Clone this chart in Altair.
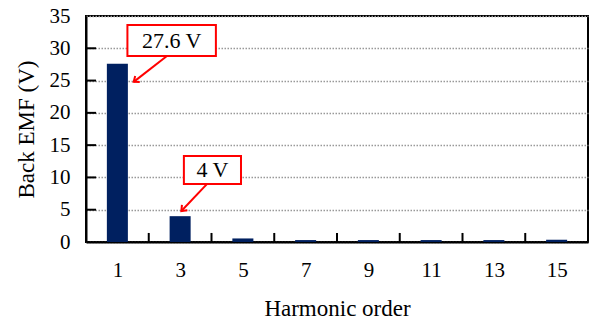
import altair as alt
import pandas as pd

# Harmonic spectrum of the back EMF
orders = [1, 3, 5, 7, 9, 11, 13, 15]
emf = [27.6, 4.0, 0.55, 0.3, 0.3, 0.3, 0.3, 0.35]

y_ticks = [5, 10, 15, 20, 25, 30]
x_dividers = [2, 4, 6, 8, 10, 12, 14]

FONT = "Liberation Serif"
NAVY = "#002060"
RED = "#ff0000"

bars_df = pd.DataFrame({"order": orders, "emf": emf})

# callouts: labelled value, box extent and arrow (tail -> tip), in data units
callouts = pd.DataFrame({
    "label": [f"{emf[0]:g} V", f"{emf[1]:g} V"],
    "bx": [1.32, 3.12], "bx2": [4.14, 4.94],
    "by": [28.8, 9.0], "by2": [33.6, 13.3],
    "tx": [2.73, 4.03], "ty": [31.2, 11.15],
    "ax": [2.58, 3.86], "ay": [28.8, 9.0],
    "hx": [1.52, 3.04], "hy": [24.8, 4.8],
    "angle": [233, 224],
})

xs = alt.Scale(domain=[0, 16], nice=False, zero=False)
ys = alt.Scale(domain=[0, 35], nice=False)

XTITLE = "Harmonic order"
YTITLE = "Back EMF (V)"

xaxis = alt.Axis(values=orders, grid=False, ticks=False,
                 labelFontSize=21, labelFont=FONT, labelColor="black",
                 labelPadding=17, titleFont=FONT, titleFontSize=23,
                 titleFontWeight="normal", titleColor="black",
                 titlePadding=17, domainColor="black", domainWidth=2)
yaxis = alt.Axis(values=[0, 5, 10, 15, 20, 25, 30, 35], grid=True,
                 gridDash=[1.5, 1.5], gridColor="#999999", gridWidth=1.5,
                 ticks=False, labelFontSize=21, labelFont=FONT,
                 labelColor="black", labelPadding=16,
                 titleFont=FONT, titleFontSize=23,
                 titleFontWeight="normal", titleColor="black",
                 titlePadding=11, domainColor="black", domainWidth=2)


def X(field):
    return alt.X(field, scale=xs, axis=xaxis, title=XTITLE)


def Y(field):
    return alt.Y(field, scale=ys, axis=yaxis, title=YTITLE)


bars = alt.Chart(bars_df).transform_calculate(
    lo="datum.order - 0.335", hi="datum.order + 0.335", base="0"
).mark_rect(color=NAVY).encode(
    x=X("lo:Q"), x2="hi:Q",
    y=Y("emf:Q"), y2="base:Q",
)

# inward tick marks
ytick_df = pd.DataFrame({"v": y_ticks})
yticks = alt.Chart(ytick_df).transform_calculate(
    x0="0", x1="0.32"
).mark_rule(color="black", strokeWidth=2).encode(
    x=X("x0:Q"), x2="x1:Q", y=Y("v:Q"),
)
xtick_df = pd.DataFrame({"v": x_dividers})
xticks = alt.Chart(xtick_df).transform_calculate(
    y0="0", y1="1.4"
).mark_rule(color="black", strokeWidth=2).encode(
    x=X("v:Q"), y=Y("y0:Q"), y2="y1:Q",
)

boxes = alt.Chart(callouts).mark_rect(fill="white", stroke=RED, strokeWidth=2).encode(
    x=X("bx:Q"), x2="bx2:Q", y=Y("by:Q"), y2="by2:Q",
)
texts = alt.Chart(callouts).mark_text(font=FONT, fontSize=22, color="black",
                                      baseline="middle", align="center").encode(
    x=X("tx:Q"), y=Y("ty:Q"), text="label:N",
)
shafts = alt.Chart(callouts).mark_rule(color=RED, strokeWidth=2).encode(
    x=X("ax:Q"), x2="hx:Q", y=Y("ay:Q"), y2="hy:Q",
)
heads = alt.Chart(callouts).mark_point(
    shape="M -0.8 1 L 0 0 L 0.8 1", filled=False, stroke=RED, strokeWidth=2,
    size=90, opacity=1,
).encode(
    x=X("hx:Q"), y=Y("hy:Q"),
    angle=alt.Angle("angle:Q", scale=None),
)

chart = alt.layer(bars, yticks, xticks, shafts, heads, boxes, texts).properties(
    width=502, height=226,
    background="white",
    autosize=alt.AutoSizeParams(type="none"),
    padding={"left": 86, "top": 16, "right": 8, "bottom": 82},
).configure_view(stroke="black", strokeWidth=2).configure_axis(
    titleFont=FONT, labelFont=FONT, titleFontSize=23, titleFontWeight="normal"
)

chart.save("out.html", embed_options={"renderer": "svg", "actions": False})
